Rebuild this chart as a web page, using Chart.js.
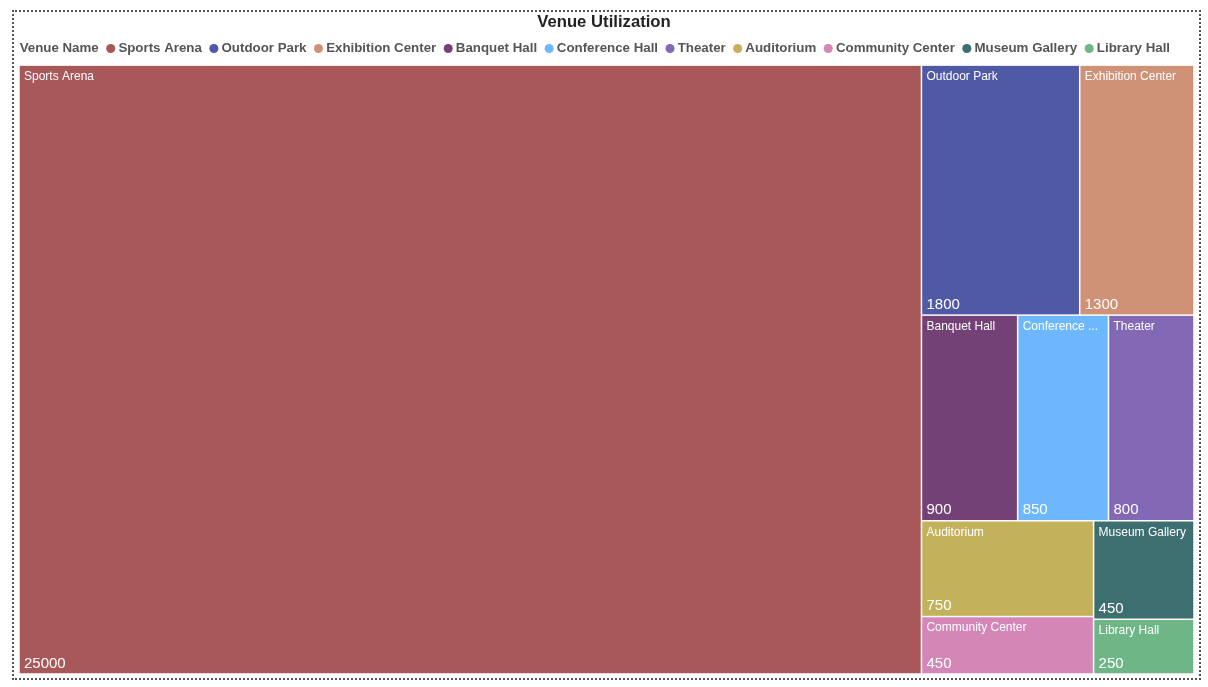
<!DOCTYPE html>
<html>
<head>
<meta charset="utf-8">
<script src="https://cdn.jsdelivr.net/npm/chart.js@4/dist/chart.umd.min.js"></script>
<style>
  html, body { margin: 0; padding: 0; background: #ffffff; }
  #frame { position: absolute; left: 12px; top: 10px; width: 1189px; height: 670px;
           box-sizing: border-box; border: 2px dotted #555; }
  #c { position: absolute; left: 0; top: 0; }
</style>
</head>
<body>
<div id="frame"></div>
<canvas id="c" width="1208" height="687"></canvas>
<script>
// ---- data ----
const chartTitle = 'Venue Utilization';
const legendTitle = 'Venue Name';
const venues = ['Sports Arena', 'Outdoor Park', 'Exhibition Center', 'Banquet Hall', 'Conference Hall',
                'Theater', 'Auditorium', 'Community Center', 'Museum Gallery', 'Library Hall'];
const utilization = [25000, 1800, 1300, 900, 850, 800, 750, 450, 450, 250];
const venueColors = ['#A9585A', '#5059A5', '#D09276', '#744177', '#6DB8FC',
                     '#8268B5', '#C4B15C', '#D486B6', '#3D6F70', '#6EB685'];

const FONT = "'Liberation Sans', Arial, Helvetica, sans-serif";

// squarified treemap layout (golden ratio), in data units
function squarify(values, x0, y0, x1, y1) {
  const ratio = (1 + Math.sqrt(5)) / 2;
  const n = values.length;
  const rects = new Array(n);
  let value = values.reduce((a, b) => a + b, 0);
  let i0 = 0, i1 = 0;
  while (i0 < n) {
    const dx = x1 - x0, dy = y1 - y0;
    let sumValue = values[i1++];
    let minValue = sumValue, maxValue = sumValue;
    const alpha = Math.max(dy / dx, dx / dy) / (value * ratio);
    let beta = sumValue * sumValue * alpha;
    let minRatio = Math.max(maxValue / beta, beta / minValue);
    for (; i1 < n; ++i1) {
      const nv = values[i1];
      sumValue += nv;
      if (nv < minValue) minValue = nv;
      if (nv > maxValue) maxValue = nv;
      beta = sumValue * sumValue * alpha;
      const newRatio = Math.max(maxValue / beta, beta / minValue);
      if (newRatio > minRatio) { sumValue -= nv; break; }
      minRatio = newRatio;
    }
    if (dx < dy) {
      const h = dy * sumValue / value;
      let x = x0;
      for (let k = i0; k < i1; k++) {
        const w = dx * values[k] / sumValue;
        rects[k] = { x0: x, y0: y0, x1: x + w, y1: y0 + h };
        x += w;
      }
      y0 += h;
    } else {
      const w = dx * sumValue / value;
      let y = y0;
      for (let k = i0; k < i1; k++) {
        const h = dy * values[k] / sumValue;
        rects[k] = { x0: x0, y0: y, x1: x0 + w, y1: y + h };
        y += h;
      }
      x0 += w;
    }
    value -= sumValue;
    i0 = i1;
  }
  return rects;
}

function fitText(ctx, text, avail) {
  if (ctx.measureText(text).width <= avail) return text;
  let s = text;
  while (s.length > 0 && ctx.measureText(s + '...').width > avail) s = s.slice(0, -1);
  return s + '...';
}

const treemapPlugin = {
  id: 'treemapCells',
  afterDatasetsDraw(chart) {
    const xs = chart.scales.x, ys = chart.scales.y;
    const W = xs.getPixelForValue(1) - xs.getPixelForValue(0);
    const H = ys.getPixelForValue(1) - ys.getPixelForValue(0);
    const aspect = W / H;
    const ds = chart.data.datasets;
    const vals = ds.map(d => d.value);
    const rects = squarify(vals, 0, 0, aspect, 1);
    const ctx = chart.ctx;
    ctx.save();
    rects.forEach((r, i) => {
      const px0 = xs.getPixelForValue(r.x0 / aspect);
      const px1 = xs.getPixelForValue(r.x1 / aspect);
      const py0 = ys.getPixelForValue(r.y0);
      const py1 = ys.getPixelForValue(r.y1);
      const g = 0.75;
      ctx.fillStyle = ds[i].backgroundColor;
      ctx.fillRect(px0 + g, py0 + g, (px1 - px0) - 2 * g, (py1 - py0) - 2 * g);
      ctx.fillStyle = '#ffffff';
      ctx.textAlign = 'left';
      ctx.textBaseline = 'middle';
      ctx.font = '12px ' + FONT;
      ctx.fillText(fitText(ctx, ds[i].label, (px1 - px0) - 10), px0 + 5, py0 + 11.5);
      ctx.font = '15px ' + FONT;
      ctx.fillText(String(ds[i].value), px0 + 5, py1 - 10.5);
    });
    ctx.restore();
  }
};

const hiddenAxis = (pos, size) => ({
  type: 'linear', position: pos, min: 0, max: 1, display: true,
  reverse: pos === 'left',
  grid: { display: false }, border: { display: false },
  ticks: { display: false }, title: { display: false },
  afterFit: (s) => { if (pos === 'left' || pos === 'right') s.width = size; else s.height = size; }
});

new Chart(document.getElementById('c'), {
  type: 'scatter',
  data: {
    datasets: venues.map((v, i) => ({
      label: v, value: utilization[i], data: [],
      backgroundColor: venueColors[i], borderColor: venueColors[i]
    }))
  },
  options: {
    responsive: false,
    animation: false,
    layout: { padding: 0, autoPadding: false },
    scales: {
      x: hiddenAxis('bottom', 13),
      y: hiddenAxis('left', 19),
      yR: hiddenAxis('right', 14)
    },
    plugins: {
      tooltip: { enabled: false },
      title: {
        display: true, text: chartTitle, color: '#222',
        font: { family: FONT, size: 16.7, weight: 'bold', lineHeight: 1.0 },
        padding: { top: 14.1, bottom: 0 }
      },
      legend: {
        display: true, position: 'top', align: 'start',
        onClick: null,
        labels: {
          usePointStyle: true, boxWidth: 2, boxHeight: 6.4, padding: 11,
          color: '#555',
          font: { family: FONT, size: 13.3, weight: 'bold' },
          generateLabels: (chart) => {
            const items = [{ text: legendTitle, fillStyle: 'rgba(0,0,0,0)', strokeStyle: 'rgba(0,0,0,0)',
                             lineWidth: 0, pointStyle: 'circle', hidden: false, fontColor: '#555' }];
            chart.data.datasets.forEach((d, i) => items.push({
              text: d.label, fillStyle: d.backgroundColor, strokeStyle: d.backgroundColor,
              lineWidth: 0, pointStyle: 'circle', hidden: false, datasetIndex: i, fontColor: '#555'
            }));
            return items;
          }
        }
      }
    }
  },
  plugins: [treemapPlugin]
});
</script>
</body>
</html>
